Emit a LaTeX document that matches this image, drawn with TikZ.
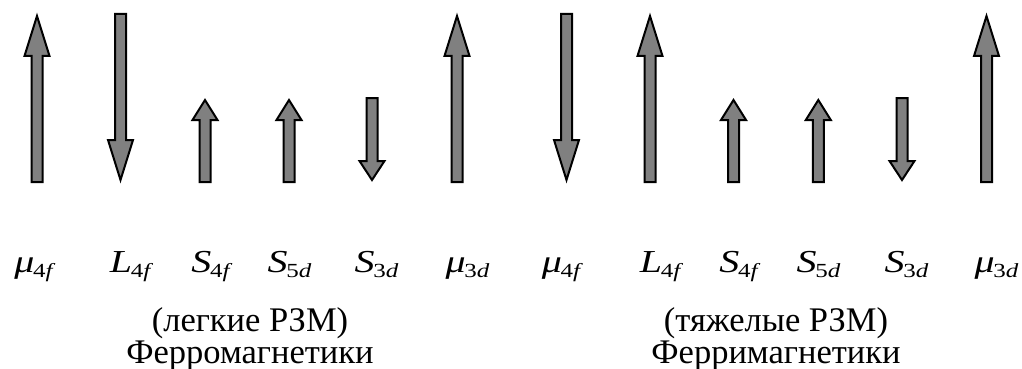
\documentclass[tikz,border=0pt]{standalone}
\usepackage{fontspec}
\usepackage{graphicx}
\setmainfont{Liberation Serif}
\definecolor{arrowgray}{RGB}{128,128,128}
\tikzset{
  spinshape/.style={draw=black, line width=2pt, fill=arrowgray, line join=miter},
  symlabel/.style={anchor=base, inner sep=0pt},
  caption/.style={anchor=base, inner sep=0pt, font=\fontsize{34.5}{34.5}\selectfont}
}
% moment symbol: italic letter with subscript (upright digit, italic letter), widened
\newcommand\momsym[3]{\scalebox{1.25}[1]{\fontsize{32}{32}\selectfont\itshape #1\kern-1pt\raisebox{-5pt}{\fontsize{20}{20}\selectfont\upshape #2\itshape #3}}}
% block arrows: x, tip y, tail y, head length
\newcommand\spinup[4]{\draw[spinshape] (#1-5.5,#3) -- (#1-5.5,#2+#4) -- (#1-12.5,#2+#4) -- (#1,#2) -- (#1+12.5,#2+#4) -- (#1+5.5,#2+#4) -- (#1+5.5,#3) -- cycle;}
\newcommand\spindown[4]{\draw[spinshape] (#1-5.5,#3) -- (#1-5.5,#2-#4) -- (#1-12.5,#2-#4) -- (#1,#2) -- (#1+12.5,#2-#4) -- (#1+5.5,#2-#4) -- (#1+5.5,#3) -- cycle;}
\begin{document}
\begin{tikzpicture}[x=1pt,y=-1pt]
\useasboundingbox (0,0) rectangle (1022,369);
% light rare earths: ferromagnets
\spinup{37}{16}{182}{40}
\spindown{120.5}{180}{14}{40}
\spinup{205}{100}{182}{20}
\spinup{289}{100}{182}{20}
\spindown{372}{180}{98}{19}
\spinup{457}{16}{182}{40}
% heavy rare earths: ferrimagnets
\spindown{566.5}{180}{14}{40}
\spinup{650}{16}{182}{40}
\spinup{733.5}{100}{182}{20}
\spinup{818.3}{100}{182}{20}
\spindown{902}{180}{98}{19}
\spinup{986.5}{16}{182}{40}

\node[symlabel] (a1) at (33.5,272) {\momsym{μ}{4}{f}};
\node[symlabel] (a2) at (130,272) {\momsym{L}{4}{f}};
\node[symlabel] (a3) at (210.5,272) {\momsym{S}{4}{f}};
\node[symlabel] (a4) at (289.5,272) {\momsym{S}{5}{d}};
\node[symlabel] (a5) at (376.5,272) {\momsym{S}{3}{d}};
\node[symlabel] (a6) at (467.5,272) {\momsym{μ}{3}{d}};
\node[symlabel] (b1) at (561,272) {\momsym{μ}{4}{f}};
\node[symlabel] (b2) at (660,272) {\momsym{L}{4}{f}};
\node[symlabel] (b3) at (738.5,272) {\momsym{S}{4}{f}};
\node[symlabel] (b4) at (818.5,272) {\momsym{S}{5}{d}};
\node[symlabel] (b5) at (906.5,272) {\momsym{S}{3}{d}};
\node[symlabel] (b6) at (996.5,272) {\momsym{μ}{3}{d}};

\node[caption] (t1) at (250,331) {(легкие РЗМ)};
\node[caption] (t2) at (250,363) {Ферромагнетики};
\node[caption] (t3) at (776,331) {(тяжелые РЗМ)};
\node[caption] (t4) at (776,363) {Ферримагнетики};
\end{tikzpicture}
\end{document}
